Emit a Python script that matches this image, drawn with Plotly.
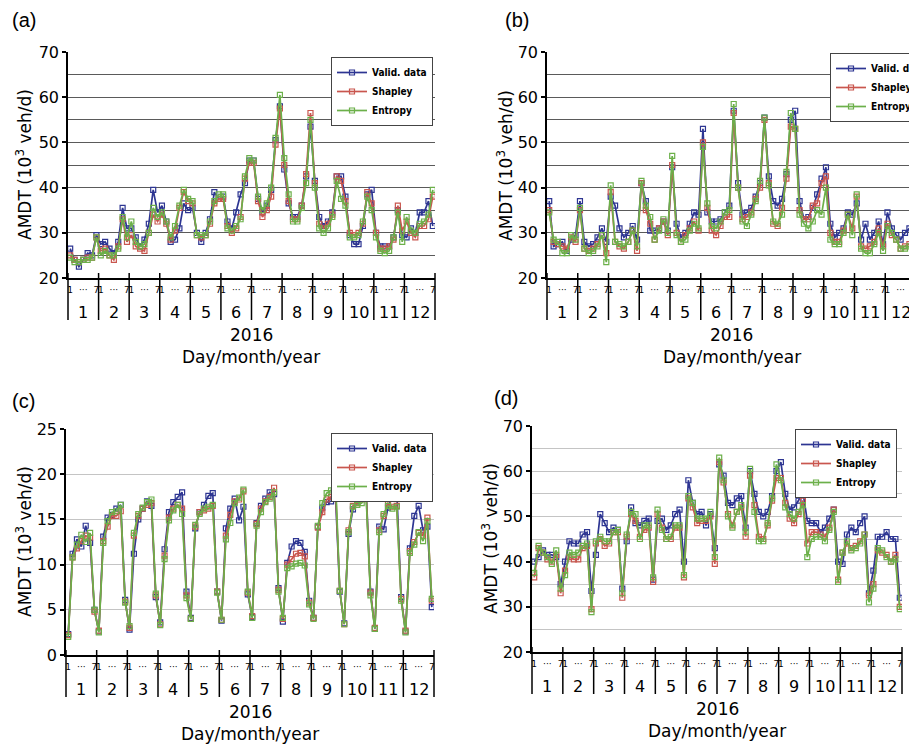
import plotly.graph_objects as go

W, H = 909, 746

months = [str(m) for m in range(1, 13)]
days = [1, 2, 3, 4, 5, 6, 7]
day_tick_text = ["1", "···", "7"]
year_label = "2016"
x_title = "Day/month/year"
y_title = "AMDT (10<sup>3</sup> veh/d)"
series_names = ["Valid. data", "Shapley", "Entropy"]

a_valid = [26.5, 24.0, 22.5, 24.0, 25.5, 25.0, 29.5,
           27.5, 28.0, 26.5, 25.5, 28.0, 35.5, 31.0,
           31.0, 29.0, 27.0, 28.5, 32.0, 39.5, 34.5,
           36.0, 32.5, 28.0, 28.5, 31.0, 36.5, 35.0,
           35.5, 30.0, 28.0, 30.0, 33.0, 39.0, 37.5,
           38.0, 32.5, 31.0, 34.5, 38.5, 41.0, 46.0,
           46.0, 37.5, 34.5, 36.0, 39.5, 50.5, 58.0,
           44.0, 36.5, 33.5, 33.5, 36.0, 42.5, 53.5,
           41.5, 33.5, 31.5, 32.5, 34.5, 42.5, 42.5,
           38.0, 29.5, 27.5, 27.5, 31.5, 38.5, 39.5,
           30.0, 27.0, 27.0, 27.0, 29.0, 35.0, 29.5,
           29.0, 31.0, 30.0, 34.5, 34.5, 37.0, 31.5]
a_shapley = [25.0, 24.0, 23.5, 24.0, 24.5, 24.5, 29.0,
             26.0, 26.5, 25.0, 24.0, 27.0, 33.0, 28.0,
             29.5, 27.0, 26.5, 26.0, 30.0, 34.0, 32.5,
             34.0, 32.0, 28.5, 30.5, 35.5, 39.0, 37.0,
             36.5, 29.5, 29.0, 29.5, 32.0, 36.5, 37.5,
             37.5, 31.5, 30.0, 31.0, 33.5, 42.0, 45.5,
             45.5, 37.0, 33.5, 35.0, 38.0, 49.5, 57.5,
             45.0, 37.0, 33.0, 33.0, 36.0, 43.0, 56.5,
             41.0, 32.0, 31.0, 32.0, 34.0, 42.5, 41.5,
             37.0, 30.0, 29.5, 30.0, 32.0, 39.0, 36.5,
             30.0, 26.5, 26.5, 27.0, 28.5, 36.0, 30.5,
             32.5, 30.0, 29.0, 31.5, 31.5, 33.0, 38.0]
a_entropy = [24.5, 23.5, 23.5, 24.0, 24.0, 24.5, 29.0,
             25.0, 26.0, 25.0, 25.0, 26.5, 33.5, 29.0,
             32.5, 28.0, 27.0, 27.5, 30.0, 35.5, 33.5,
             34.5, 32.5, 29.0, 31.5, 36.0, 39.5, 37.5,
             37.0, 29.5, 29.5, 29.5, 32.5, 37.0, 38.5,
             38.5, 31.0, 30.5, 31.5, 33.0, 42.5, 46.5,
             46.0, 38.0, 35.0, 36.5, 40.0, 51.0, 60.5,
             46.5, 38.5, 32.5, 32.5, 35.5, 41.0, 55.0,
             40.0, 31.0, 30.0, 31.0, 33.5, 41.5, 37.5,
             36.0, 29.0, 29.0, 29.5, 32.5, 38.0, 35.0,
             29.0, 26.0, 25.5, 26.0, 29.0, 34.5, 28.0,
             33.5, 30.5, 30.0, 32.0, 32.5, 34.0, 39.5]

b_valid = [37.0, 27.0, 27.5, 28.0, 26.0, 28.5, 29.5,
           37.0, 28.0, 27.0, 27.5, 29.0, 31.0, 28.0,
           38.0, 36.0, 31.0, 29.0, 30.0, 31.5, 28.5,
           41.0, 37.0, 30.5, 30.5, 31.0, 32.5, 30.5,
           44.5, 32.0, 29.0, 30.0, 32.0, 34.5, 34.0,
           53.0, 34.5, 32.5, 32.5, 33.0, 34.5, 36.0,
           57.0, 41.0, 34.0, 34.5, 35.5, 38.0, 41.0,
           55.5, 42.5, 37.0, 36.0, 37.5, 43.0, 55.0,
           57.0, 37.0, 33.0, 33.5, 35.5, 38.5, 42.0,
           44.5, 32.0, 29.0, 30.0, 31.0, 34.5, 34.0,
           36.5, 28.5, 32.0, 28.5, 30.0, 32.5, 27.5,
           34.5, 31.0, 29.5, 28.5, 30.0, 31.0, 31.0]
b_shapley = [35.0, 28.0, 27.5, 27.0, 26.5, 29.0, 28.0,
             35.0, 26.5, 26.0, 26.5, 27.5, 29.5, 25.5,
             39.0, 28.0, 27.0, 26.5, 28.0, 30.5, 26.0,
             41.0, 35.0, 32.0, 28.5, 31.0, 32.5, 29.5,
             45.0, 30.0, 28.0, 29.5, 31.0, 32.5, 30.5,
             50.0, 35.5, 30.5, 29.5, 31.5, 33.5, 33.5,
             56.5, 40.0, 33.0, 33.5, 34.5, 37.5, 40.0,
             55.0, 41.0, 32.0, 31.5, 35.5, 42.0, 53.5,
             53.0, 35.0, 33.0, 33.0, 36.0, 36.5, 41.0,
             42.5, 30.0, 28.0, 28.0, 30.5, 34.0, 31.0,
             38.0, 27.0, 26.5, 27.0, 28.0, 31.0, 27.0,
             32.0, 29.5, 28.5, 26.5, 27.0, 27.5, 28.0]
b_entropy = [34.5, 28.5, 28.0, 25.5, 25.5, 29.5, 28.5,
             35.5, 26.5, 25.5, 26.0, 27.0, 29.5, 23.5,
             40.5, 28.0, 27.5, 27.0, 28.0, 30.5, 27.0,
             41.5, 36.0, 33.5, 28.5, 30.5, 33.0, 30.0,
             47.0, 29.5, 28.0, 28.5, 30.5, 32.0, 31.0,
             49.0, 36.5, 31.5, 31.0, 32.5, 34.5, 35.0,
             58.5, 40.0, 32.5, 31.5, 34.0, 37.0, 41.5,
             55.5, 40.5, 32.5, 32.0, 34.0, 43.5, 56.5,
             53.0, 34.0, 32.0, 31.0, 32.5, 35.0, 34.0,
             40.0, 28.5, 27.5, 27.5, 30.0, 34.0, 29.5,
             38.5, 26.5, 25.5, 25.5, 27.5, 30.0, 26.0,
             31.5, 30.0, 28.5, 26.5, 26.5, 27.0, 27.5]

c_valid = [2.3, 11.2, 12.8, 12.0, 14.3, 12.4, 5.0,
           2.6, 13.1, 15.2, 15.5, 16.2, 16.6, 6.1,
           2.8, 11.2, 15.0, 16.2, 17.0, 16.5, 6.4,
           3.6, 11.7, 15.8, 16.9, 17.5, 18.0, 7.0,
           4.1, 14.0, 15.8, 16.6, 17.6, 17.9, 7.0,
           3.8, 14.0, 16.2, 17.3, 14.9, 16.4, 6.7,
           4.2, 14.6, 16.5, 17.3, 18.0, 17.8, 7.4,
           3.7, 10.2, 12.0, 12.6, 12.4, 11.4, 6.0,
           4.1, 14.2, 16.3, 16.9, 17.0, 17.7, 7.0,
           3.5, 13.4, 16.1, 17.0, 17.5, 18.4, 7.0,
           2.9, 14.2, 13.9, 16.3, 17.6, 18.1, 6.4,
           2.6, 11.8, 15.4, 16.5, 13.8, 14.2, 5.3]
c_shapley = [2.2, 10.8, 11.8, 12.6, 13.2, 13.0, 4.8,
             2.7, 12.6, 14.2, 15.4, 15.4, 15.9, 5.9,
             3.0, 13.2, 15.4, 16.2, 16.6, 16.8, 6.6,
             3.4, 11.0, 15.2, 16.2, 16.6, 16.2, 6.6,
             4.0, 14.2, 15.8, 16.0, 16.2, 16.5, 7.0,
             3.9, 13.2, 15.5, 17.0, 17.2, 18.1, 6.9,
             4.3, 14.5, 16.2, 17.0, 17.5, 18.5, 7.2,
             4.0, 10.0, 10.6, 11.2, 11.3, 10.9, 5.8,
             4.1, 14.1, 15.8, 17.2, 17.5, 18.7, 7.1,
             3.4, 13.8, 16.5, 16.8, 17.2, 18.0, 6.9,
             3.0, 13.8, 15.4, 16.8, 16.4, 16.5, 6.2,
             2.7, 11.5, 12.5, 13.5, 13.2, 15.2, 6.0]
c_entropy = [2.0, 10.8, 12.2, 13.3, 12.5, 13.5, 5.0,
             2.5, 12.4, 14.8, 15.8, 15.9, 16.6, 5.8,
             3.2, 13.5, 15.6, 16.3, 16.9, 17.2, 6.8,
             3.3, 10.6, 14.9, 16.0, 16.6, 15.6, 6.3,
             4.0, 14.4, 15.6, 16.2, 16.4, 16.6, 6.9,
             3.9, 12.8, 14.6, 16.8, 17.4, 18.3, 7.0,
             4.1, 14.3, 15.8, 16.9, 17.3, 18.0, 7.0,
             4.1, 9.6, 9.8, 10.1, 10.2, 9.9, 5.6,
             4.0, 14.3, 16.8, 17.9, 18.2, 19.7, 7.1,
             3.4, 13.6, 16.4, 16.6, 16.8, 17.6, 6.6,
             2.9, 13.6, 15.6, 16.5, 16.2, 16.4, 6.0,
             2.5, 11.3, 12.2, 13.6, 12.6, 14.8, 6.2]

d_valid = [40.0, 41.0, 42.5, 41.5, 41.5, 41.0, 35.0,
           40.0, 44.5, 44.0, 44.0, 46.0, 46.5, 33.5,
           41.5, 50.5, 48.5, 46.5, 47.5, 47.0, 34.0,
           44.5, 52.0, 48.5, 48.0, 49.0, 49.5, 36.0,
           49.0, 49.5, 47.0, 48.0, 50.5, 51.5, 40.0,
           58.0, 53.0, 50.5, 51.0, 48.0, 50.5, 43.0,
           61.5, 59.0, 53.0, 52.5, 54.0, 54.5, 47.5,
           60.0, 55.0, 51.0, 50.0, 51.0, 54.5, 60.0,
           62.0, 55.0, 51.5, 52.0, 53.5, 55.5, 49.0,
           48.5, 48.5, 46.5, 47.5, 49.5, 51.5, 40.0,
           39.5, 46.0, 47.5, 46.5, 48.5, 50.0, 33.0,
           38.0, 45.5, 45.5, 46.5, 45.0, 45.0, 32.0]
d_shapley = [36.5, 43.0, 42.0, 40.5, 40.0, 41.5, 33.0,
             38.0, 41.0, 40.5, 40.5, 43.0, 43.5, 29.5,
             44.0, 45.0, 43.5, 44.0, 46.5, 46.5, 32.0,
             45.5, 50.5, 49.0, 45.5, 47.0, 47.5, 35.5,
             50.5, 47.5, 45.0, 45.0, 47.5, 47.5, 36.5,
             54.0, 52.0, 48.5, 49.0, 49.0, 50.0, 39.5,
             62.0, 57.5, 50.5, 48.0, 51.0, 52.0, 45.5,
             59.0, 52.5, 45.5, 45.0, 48.0, 53.5, 58.5,
             58.5, 53.0, 49.5, 48.5, 50.5, 53.5, 44.0,
             46.5, 46.5, 46.0, 45.5, 47.5, 51.5, 36.0,
             42.0, 44.0, 43.0, 43.5, 44.5, 46.0, 32.5,
             35.0, 42.5, 42.0, 41.5, 40.0, 41.5, 30.0]
d_entropy = [37.5, 43.5, 42.0, 41.0, 39.5, 42.5, 34.0,
             37.0, 42.0, 41.5, 42.0, 43.5, 44.0, 28.8,
             44.5, 45.5, 44.5, 44.5, 46.5, 47.0, 33.0,
             46.0, 51.0, 50.5, 45.0, 48.0, 48.0, 36.5,
             51.5, 47.0, 45.0, 45.5, 48.0, 48.0, 37.0,
             54.5, 53.0, 49.5, 49.5, 49.5, 51.0, 41.0,
             63.0, 58.0, 50.0, 47.5, 51.0, 52.5, 46.5,
             60.5, 51.0, 44.5, 44.5, 48.5, 54.0, 61.5,
             58.0, 52.0, 50.5, 49.5, 51.0, 52.5, 41.0,
             45.0, 45.5, 45.5, 44.5, 47.0, 51.0, 35.5,
             42.0, 44.5, 42.5, 43.0, 44.0, 46.0, 31.0,
             34.0, 43.0, 42.5, 41.0, 40.0, 40.5, 29.5]

# ---------- styling ----------
colors = ["#2d3592", "#c9564e", "#6cb04a"]
TXT = "DejaVu Sans"
LEG_FONT = "Liberation Sans Narrow, DejaVu Sans Condensed, Arial Narrow, sans-serif"

# x position of each (month, day) point: one slot per day, 7 slots per month
x_pos = [(m * 7) + (d - 0.5) for m in range(12) for d in days]
tick_vals, tick_txt = [], []
for m in range(12):
    for d, t in zip([1, 4, 7], day_tick_text):
        tick_vals.append(m * 7 + d - 0.5)
        tick_txt.append(t)


def px_x(v):
    return v / W


def px_y(v):
    return 1 - v / H


# panel geometry in pixels: left, right(of full 12-month axis), top, bottom
panels = [
    dict(s="", letter="(a)", left=68, right=435, top=52, bottom=278, yr=[20, 70], dt=10,
         grid="#5a5a5a", gw=1.3, data=[a_valid, a_shapley, a_entropy], leg="legend",
         lab=(10, 20), ytit=(24, 165)),
    dict(s="2", letter="(b)", left=547, right=916, top=52, bottom=278, yr=[20, 70], dt=10,
         grid="#5a5a5a", gw=1.3, data=[b_valid, b_shapley, b_entropy], leg="legend2",
         lab=(503, 20), ytit=(505, 166)),
    dict(s="3", letter="(c)", left=66, right=434, top=429, bottom=655, yr=[0, 25], dt=5,
         grid="#c4c4c4", gw=1.0, data=[c_valid, c_shapley, c_entropy], leg="legend3",
         lab=(10, 401), ytit=(24, 542)),
    dict(s="4", letter="(d)", left=532, right=902, top=426, bottom=652, yr=[20, 70], dt=10,
         grid="#c4c4c4", gw=1.0, data=[d_valid, d_shapley, d_entropy], leg="legend4",
         lab=(492, 398), ytit=(490, 539)),
]

fig = go.Figure()
layout = dict(width=W, height=H, margin=dict(l=0, r=0, t=0, b=0, autoexpand=False),
              paper_bgcolor="white", plot_bgcolor="white", showlegend=True,
              shapes=[], annotations=[])

for p in panels:
    s = p["s"]
    full_units = 84.0
    vis_right = min(p["right"], W)
    xmax = full_units * (vis_right - p["left"]) / (p["right"] - p["left"])
    ph = p["bottom"] - p["top"]

    for name, vals, col in zip(series_names, p["data"], colors):
        fig.add_trace(go.Scatter(
            x=x_pos, y=vals, name=name, mode="lines+markers",
            xaxis="x" + s, yaxis="y" + s, legend=p["leg"],
            line=dict(color=col, width=1.7),
            marker=dict(symbol="square-open", size=5, color=col, line=dict(width=1.2, color=col)),
        ))

    layout["xaxis" + s] = dict(
        domain=[px_x(p["left"]), px_x(vis_right)], range=[0, xmax], anchor="y" + s,
        tickmode="array", tickvals=tick_vals, ticktext=tick_txt, ticks="", tickangle=0,
        tickfont=dict(family=TXT, size=9, color="black"), ticklabelstandoff=2,
        showline=True, linecolor="black", linewidth=1.5, showgrid=False, zeroline=False,
    )
    yaxis = dict(
        domain=[px_y(p["bottom"]), px_y(p["top"])], range=p["yr"], anchor="x" + s,
        dtick=p["dt"], tick0=0, ticks="outside", ticklen=4, tickcolor="black", tickwidth=1.5,
        tickfont=dict(family=TXT, size=16, color="black"),
        showline=True, linecolor="black", linewidth=1.5, zeroline=False,
        showgrid=True, gridcolor=p["grid"], gridwidth=p["gw"],
    )
    if p["dt"] == 10:
        yaxis["minor"] = dict(dtick=5, tick0=0, showgrid=True, gridcolor=p["grid"],
                              gridwidth=p["gw"], ticks="")
    layout["yaxis" + s] = yaxis

    # month separators (axis decoration), placed in axis-domain fractions
    below = 42.0 / ph
    above = 5.0 / ph
    for k in range(13):
        f = 7 * k / xmax
        if f <= 1.0001:
            layout["shapes"].append(dict(
                type="line", xref="x" + s + " domain", yref="y" + s + " domain",
                x0=f, x1=f, y0=-below, y1=above, line=dict(color="black", width=1.5)))
    for m, lab in enumerate(months):
        f = (7 * m + 3.5) / xmax
        layout["annotations"].append(dict(
            text=lab, xref="x" + s + " domain", yref="y" + s + " domain",
            x=f, y=-34.0 / ph, xanchor="center", yanchor="middle", showarrow=False,
            font=dict(family=TXT, size=16, color="black")))

    cx = (p["left"] + p["right"]) / 2
    layout["annotations"].append(dict(
        text=year_label, xref="paper", yref="paper", x=px_x(cx), y=px_y(p["bottom"] + 57),
        xanchor="center", yanchor="middle", showarrow=False,
        font=dict(family=TXT, size=17, color="black")))
    layout["annotations"].append(dict(
        text=x_title, xref="paper", yref="paper", x=px_x(cx), y=px_y(p["bottom"] + 79),
        xanchor="center", yanchor="middle", showarrow=False,
        font=dict(family=TXT, size=17, color="black")))
    layout["annotations"].append(dict(
        text=y_title, xref="paper", yref="paper", x=px_x(p["ytit"][0]), y=px_y(p["ytit"][1]),
        xanchor="center", yanchor="middle", textangle=-90, showarrow=False,
        font=dict(family=TXT, size=17, color="black")))
    layout["annotations"].append(dict(
        text=p["letter"], xref="paper", yref="paper", x=px_x(p["lab"][0]), y=px_y(p["lab"][1]),
        xanchor="left", yanchor="middle", showarrow=False,
        font=dict(family="Liberation Sans, Arial, sans-serif", size=20, color="black")))

leg_common = dict(bgcolor="white", bordercolor="#444", borderwidth=1,
                  font=dict(family=LEG_FONT, size=10, color="black", weight="bold"),
                  itemwidth=30, tracegroupgap=0, yanchor="top")
layout["legend"] = dict(leg_common, x=px_x(433), y=px_y(57), xanchor="right")
layout["legend2"] = dict(leg_common, x=px_x(830), y=px_y(53), xanchor="left")
layout["legend3"] = dict(leg_common, x=px_x(433), y=px_y(433), xanchor="right")
layout["legend4"] = dict(leg_common, x=px_x(897), y=px_y(429), xanchor="right")

fig.update_layout(**layout)
fig.write_html("out.html", config={"displayModeBar": False},
               post_script="document.body.style.margin='0';")
